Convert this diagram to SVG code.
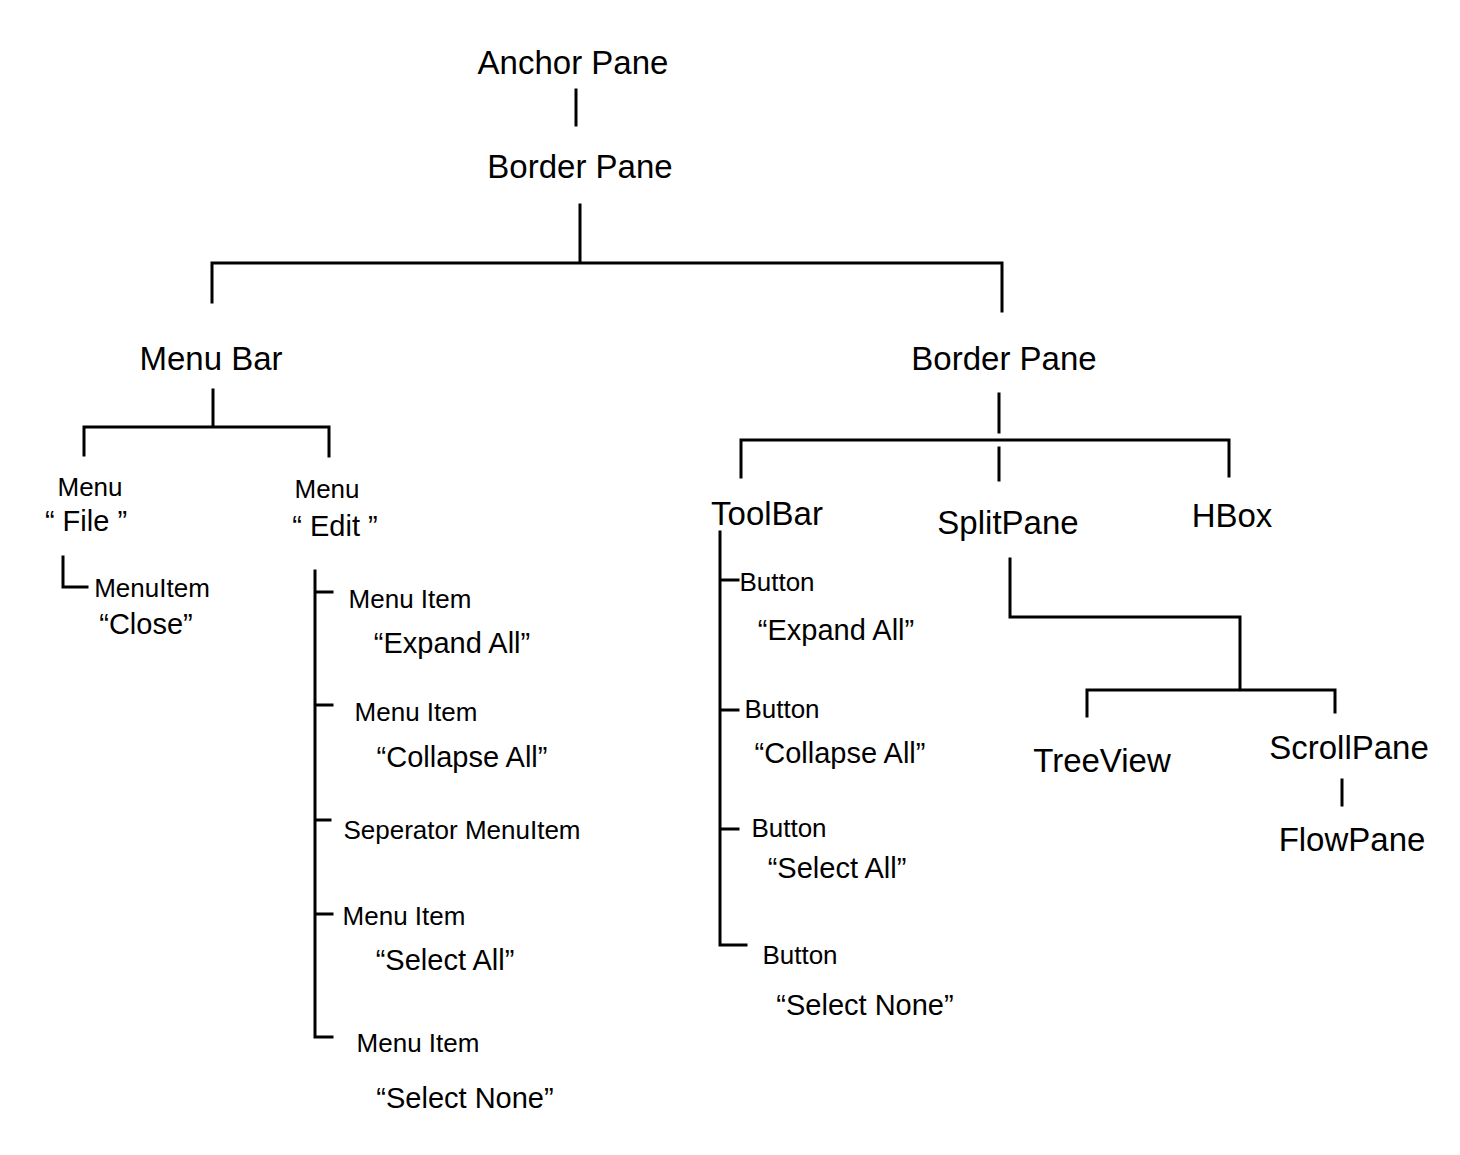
<svg xmlns="http://www.w3.org/2000/svg" width="1460" height="1155" viewBox="0 0 1460 1155">
<style>
.l{fill:none;stroke:#000;stroke-width:3;stroke-linecap:square}
text{font-family:"Liberation Sans",Arial,sans-serif;fill:#000;text-anchor:middle}
.a{font-size:33px}
.b{font-size:26px}
.c{font-size:29px}
</style>
<rect width="1460" height="1155" fill="#fff"/>
<g id="connectors">
<path class="l" d="M576 90V125"/>
<path class="l" d="M580 205V262M212 302V263H1002V311"/>
<path class="l" d="M213 390V425M84 455V427H329V456"/>
<path class="l" d="M63 557V587H87"/>
<path class="l" d="M315 571V1037H332M315 592H332M315 705H332M315 820H330M315 914H332"/>
<path class="l" d="M999 394V432M741 477V440H1229V476M999 448V480"/>
<path class="l" d="M720 532V945H746M720 580H738M720 710H738M720 829H738"/>
<path class="l" d="M1010 559V617H1240V688M1087 716V690H1335V712"/>
<path class="l" d="M1342 780V805"/>
</g>
<g id="anchorpane"><text class="a" x="573" y="74">Anchor Pane</text></g>
<g id="borderpane1"><text class="a" x="580" y="178">Border Pane</text></g>
<g id="menubar"><text class="a" x="211" y="370">Menu Bar</text></g>
<g id="menufile"><text class="b" x="90" y="496">Menu</text><text class="c" x="86" y="531">“ File ”</text></g>
<g id="menuitemclose"><text class="b" x="152" y="597">MenuItem</text><text class="c" x="146" y="634">“Close”</text></g>
<g id="menuedit"><text class="b" x="327" y="498">Menu</text><text class="c" x="335" y="536">“ Edit ”</text></g>
<g id="mi1"><text class="b" x="410" y="608">Menu Item</text><text class="c" x="452" y="653">“Expand All”</text></g>
<g id="mi2"><text class="b" x="416" y="721">Menu Item</text><text class="c" x="462" y="767">“Collapse All”</text></g>
<g id="sep"><text class="b" x="462" y="839">Seperator MenuItem</text></g>
<g id="mi3"><text class="b" x="404" y="925">Menu Item</text><text class="c" x="445" y="970">“Select All”</text></g>
<g id="mi4"><text class="b" x="418" y="1052">Menu Item</text><text class="c" x="465" y="1108">“Select None”</text></g>
<g id="borderpane2"><text class="a" x="1004" y="370">Border Pane</text></g>
<g id="toolbar"><text class="a" x="767" y="525">ToolBar</text></g>
<g id="splitpane"><text class="a" x="1008" y="534">SplitPane</text></g>
<g id="hbox"><text class="a" x="1232" y="527">HBox</text></g>
<g id="b1"><text class="b" x="777" y="591">Button</text><text class="c" x="836" y="640">“Expand All”</text></g>
<g id="b2"><text class="b" x="782" y="718">Button</text><text class="c" x="840" y="763">“Collapse All”</text></g>
<g id="b3"><text class="b" x="789" y="837">Button</text><text class="c" x="837" y="878">“Select All”</text></g>
<g id="b4"><text class="b" x="800" y="964">Button</text><text class="c" x="865" y="1015">“Select None”</text></g>
<g id="treeview"><text class="a" x="1102" y="772">TreeView</text></g>
<g id="scrollpane"><text class="a" x="1349" y="759">ScrollPane</text></g>
<g id="flowpane"><text class="a" x="1352" y="851">FlowPane</text></g>
</svg>
